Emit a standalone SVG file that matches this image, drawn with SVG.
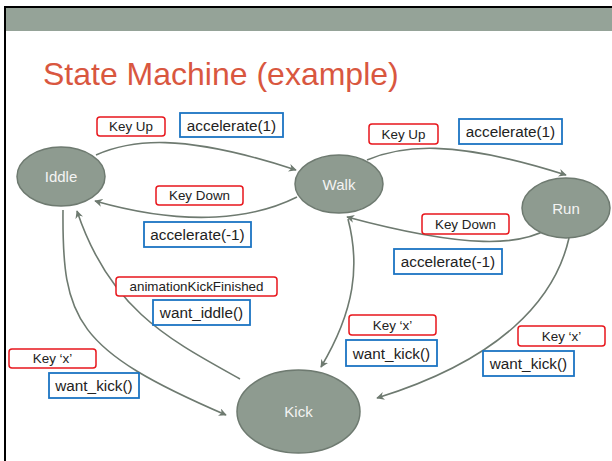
<svg xmlns="http://www.w3.org/2000/svg" width="612" height="461" viewBox="0 0 612 461">
  <style>
    .state ellipse { fill: #8e9b90; stroke: #6e7a70; stroke-width: 1.5; }
    .state text { fill: #f4f4f4; font-family: "Liberation Sans", Arial, sans-serif; font-size: 15px; text-anchor: middle; }
    .event rect { fill: #ffffff; stroke: #e8161c; stroke-width: 1.5; }
    .action rect { fill: #ffffff; stroke: #1b74c3; stroke-width: 1.8; }
    .event text { fill: #222; font-family: "Liberation Sans", Arial, sans-serif; font-size: 13.4px; text-anchor: middle; }
    .action text { fill: #222; font-family: "Liberation Sans", Arial, sans-serif; font-size: 15.3px; text-anchor: middle; }
    #connectors path { fill: none; stroke: #6e7a70; stroke-width: 1.6; marker-end: url(#arrow); }
  </style>
  <defs>
    <marker id="arrow" viewBox="0 0 10 10" refX="9" refY="5" markerWidth="5" markerHeight="5" orient="auto" markerUnits="strokeWidth">
      <path d="M0,0 L10,5 L0,10 L3,5 Z" fill="#6e7a70"/>
    </marker>
  </defs>

  <!-- slide background and frame -->
  <rect x="0" y="0" width="612" height="461" fill="#ffffff"/>
  <rect x="6" y="8" width="606" height="23" fill="#95a398"/>
  <path d="M5,461 V7 H612" fill="none" stroke="#000" stroke-width="2"/>

  <text x="43" y="85" fill="#d9573f" font-family="Liberation Sans, Arial, sans-serif" font-size="32">State Machine (example)</text>

  <!-- transitions -->
  <g id="connectors">
    <path d="M96,155 C130,140 180,132 296,170"/>
    <path d="M297,197 C255,218 190,228 95,201"/>
    <path d="M367,160 C400,146 450,138 566,175"/>
    <path d="M548,229 C520,245 470,250 347,217"/>
    <path d="M63,210 C62,320 75,350 226,415"/>
    <path d="M240,379 C170,340 110,310 77,211"/>
    <path d="M348,219 C360,265 355,310 321,367"/>
    <path d="M569,238 C555,300 500,360 377,398"/>
  </g>

  <!-- states -->
  <g id="iddle" class="state">
    <ellipse cx="61" cy="176.5" rx="44" ry="29.5"/>
    <text x="61" y="182">Iddle</text>
  </g>
  <g id="walk" class="state">
    <ellipse cx="339" cy="184" rx="44" ry="29"/>
    <text x="339" y="189.5">Walk</text>
  </g>
  <g id="run" class="state">
    <ellipse cx="566" cy="208" rx="44" ry="30"/>
    <text x="566" y="213.5">Run</text>
  </g>
  <g id="kick" class="state">
    <ellipse cx="298.5" cy="411.5" rx="61.5" ry="41.5"/>
    <text x="298.5" y="417">Kick</text>
  </g>

  <!-- transition labels: events (red) and actions (blue) -->
  <g id="label-iddle-walk-event" class="event">
    <rect x="97" y="117" width="68" height="19" rx="3"/>
    <text x="131" y="131.3">Key Up</text>
  </g>
  <g id="label-iddle-walk-action" class="action">
    <rect x="180" y="113" width="103" height="24"/>
    <text x="231.5" y="130.5">accelerate(1)</text>
  </g>
  <g id="label-walk-iddle-event" class="event">
    <rect x="156" y="186" width="87" height="19" rx="3"/>
    <text x="199.5" y="200.3">Key Down</text>
  </g>
  <g id="label-walk-iddle-action" class="action">
    <rect x="144" y="222" width="107" height="25"/>
    <text x="197.5" y="240">accelerate(-1)</text>
  </g>
  <g id="label-walk-run-event" class="event">
    <rect x="369" y="124" width="69" height="20" rx="3"/>
    <text x="403.5" y="138.8">Key Up</text>
  </g>
  <g id="label-walk-run-action" class="action">
    <rect x="459" y="119" width="103" height="25"/>
    <text x="510.5" y="137">accelerate(1)</text>
  </g>
  <g id="label-run-walk-event" class="event">
    <rect x="422" y="214" width="87" height="20" rx="3"/>
    <text x="465.5" y="228.8">Key Down</text>
  </g>
  <g id="label-run-walk-action" class="action">
    <rect x="394" y="249" width="108" height="25"/>
    <text x="448" y="267">accelerate(-1)</text>
  </g>
  <g id="label-kick-iddle-event" class="event">
    <rect x="116" y="277" width="161" height="19" rx="3"/>
    <text x="196.5" y="291.3">animationKickFinished</text>
  </g>
  <g id="label-kick-iddle-action" class="action">
    <rect x="153" y="300" width="97" height="25"/>
    <text x="201.5" y="318">want_iddle()</text>
  </g>
  <g id="label-iddle-kick-event" class="event">
    <rect x="9" y="349" width="87" height="19" rx="3"/>
    <text x="52.5" y="363.3">Key ‘x’</text>
  </g>
  <g id="label-iddle-kick-action" class="action">
    <rect x="49" y="373" width="90" height="25"/>
    <text x="94" y="391">want_kick()</text>
  </g>
  <g id="label-walk-kick-event" class="event">
    <rect x="349" y="315" width="87" height="20" rx="3"/>
    <text x="392.5" y="329.8">Key ‘x’</text>
  </g>
  <g id="label-walk-kick-action" class="action">
    <rect x="346" y="340" width="91" height="26"/>
    <text x="391.5" y="358.5">want_kick()</text>
  </g>
  <g id="label-run-kick-event" class="event">
    <rect x="518" y="326" width="87" height="20" rx="3"/>
    <text x="561.5" y="340.8">Key ‘x’</text>
  </g>
  <g id="label-run-kick-action" class="action">
    <rect x="483" y="351" width="91" height="25"/>
    <text x="528.5" y="369">want_kick()</text>
  </g>
</svg>
